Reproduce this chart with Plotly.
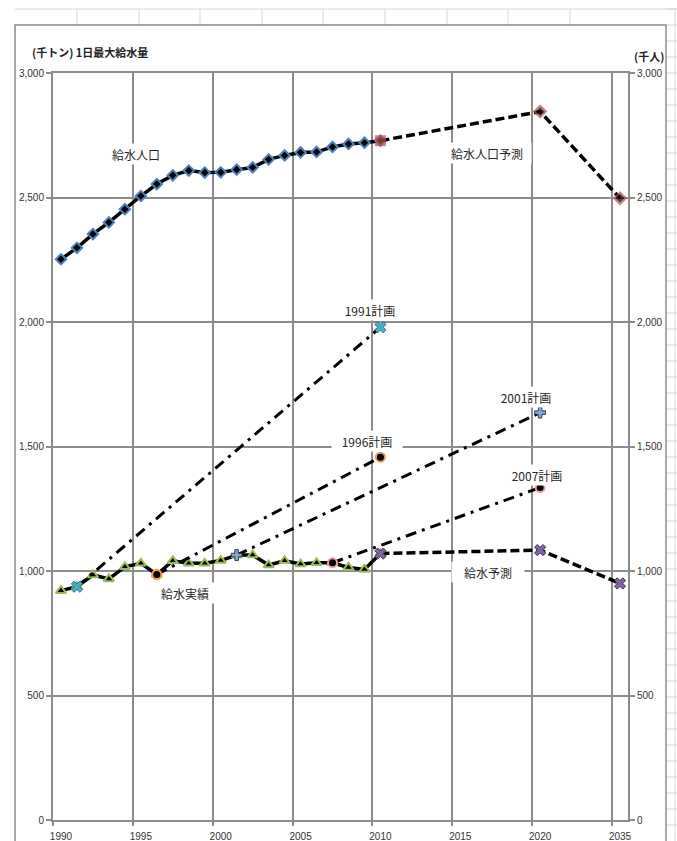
import plotly.graph_objects as go

# ---------------- data ----------------
# Excel-style category axis: yearly slots 1990-2024, the slot after 2024 holds 2035
axis_categories = [str(y) for y in range(1990, 2025)] + ["2035"]
tick_labels = ["1990", "1995", "2000", "2005", "2010", "2015", "2020", "2035"]

years_actual = [1990, 1991, 1992, 1993, 1994, 1995, 1996, 1997, 1998, 1999, 2000,
                2001, 2002, 2003, 2004, 2005, 2006, 2007, 2008, 2009, 2010]

# 給水人口 (千人, right axis)
population = [2252, 2298, 2353, 2400, 2453, 2506, 2554, 2589, 2608, 2600, 2601,
              2612, 2621, 2653, 2669, 2681, 2683, 2703, 2715, 2720, 2728]
pop_forecast_years = [2010, 2020, 2035]
pop_forecast = [2728, 2845, 2497]

# 1日最大給水量 (千トン, left axis)
supply_actual = [921, 937, 984, 968, 1017, 1031, 986, 1041, 1031, 1031, 1042,
                 1064, 1064, 1024, 1041, 1028, 1033, 1033, 1014, 1006, 1070]
supply_forecast_years = [2010, 2020, 2035]
supply_forecast = [1070, 1084, 950]

plan1991_years, plan1991 = [1991, 2010], [937, 1979]
plan1996_years, plan1996 = [1996, 2010], [986, 1457]
plan2001_years, plan2001 = [2001, 2020], [1064, 1636]
plan2007_years, plan2007 = [2007, 2020], [1033, 1335]

# ---------------- helpers ----------------
pos = {c: i for i, c in enumerate(axis_categories)}


def xs(years):
    return [pos[str(y)] for y in years]


W, H = 677, 841
ML, MR, MT, MB = 53, 49, 73, 21
PW, PH = W - ML - MR, H - MT - MB


def px_x(px):
    return (px - ML) / PW


def px_y(py):
    return (H - MB - py) / PH


GRID = "#8c8c8c"
CELL = "#d0d7e5"
DASHDOT = "11px,6px,3px,6px"
DASH = "9px,4px"

fig = go.Figure()

# plan lines (dash-dot)
plans = [
    (plan1991_years, plan1991, dict(symbol="x", size=10, color="#4bacc6", line=dict(color="#1f5f75", width=0.8))),
    (plan1996_years, plan1996, dict(symbol="circle", size=9, color="black", line=dict(color="#f79646", width=2))),
    (plan2001_years, plan2001, dict(symbol="cross", size=9, color="#7ea6e0", line=dict(color="#222", width=0.8))),
    (plan2007_years, plan2007, dict(symbol="circle", size=9, color="black", line=dict(color="#e6a5a3", width=2))),
]

# actual supply
fig.add_trace(go.Scatter(
    x=xs(years_actual), y=supply_actual, mode="lines+markers",
    line=dict(color="black", width=3.5),
    marker=dict(symbol="triangle-up", size=9, color="black", line=dict(color="#9bbb59", width=2)),
    yaxis="y", hoverinfo="skip"))

for yrs, vals, mk in plans:
    fig.add_trace(go.Scatter(
        x=xs(yrs), y=vals, mode="lines+markers",
        line=dict(color="black", width=3, dash=DASHDOT),
        marker=mk, yaxis="y", hoverinfo="skip"))

# supply forecast
fig.add_trace(go.Scatter(
    x=xs(supply_forecast_years), y=supply_forecast, mode="lines+markers",
    line=dict(color="black", width=3.5, dash=DASH),
    marker=dict(symbol="x", size=10, color="#8064a2", line=dict(color="#2a1f3a", width=0.8)),
    yaxis="y", hoverinfo="skip"))

# population
fig.add_trace(go.Scatter(
    x=xs(years_actual), y=population, mode="lines+markers",
    line=dict(color="black", width=3.5),
    marker=dict(symbol="diamond", size=8, color="black", line=dict(color="#4f81bd", width=2)),
    yaxis="y2", hoverinfo="skip"))

# population forecast
fig.add_trace(go.Scatter(
    x=xs(pop_forecast_years), y=pop_forecast, mode="lines+markers",
    line=dict(color="black", width=3.5, dash=DASH),
    marker=dict(symbol=["square", "diamond", "diamond"], size=[9, 9, 9],
                color=["#c0504d", "black", "black"], line=dict(color="#c0504d", width=2)),
    yaxis="y2", hoverinfo="skip"))

# ---------------- labels ----------------
lab_font = dict(family="Noto Sans CJK JP", size=12, color="#262626")
labels = [
    ("給水人口", 4.7, 2675, 64),
    ("給水人口予測", 26.67, 2679, 86),
    ("1991計画", 19.34, 2048, 68),
    ("1996計画", 19.15, 1522, 68),
    ("2001計画", 29.1, 1699, 66),
    ("2007計画", 29.79, 1386, 66),
    ("給水実績", 7.77, 912, 66),
    ("給水予測", 26.74, 996, 70),
]
annotations = []
for text, x, y, w in labels:
    annotations.append(dict(text=text, x=x, y=y, xref="x", yref="y", showarrow=False,
                            font=lab_font, bgcolor="white", width=w, height=18,
                            borderpad=1, xanchor="center", yanchor="middle"))

annotations.append(dict(text="<b>(千トン) 1日最大給水量</b>", x=px_x(30), y=px_y(52),
                        xref="paper", yref="paper", showarrow=False, xanchor="left", yanchor="middle",
                        font=dict(family="Noto Sans CJK JP", size=11, color="#222")))
annotations.append(dict(text="<b>(千人)</b>", x=px_x(666), y=px_y(56),
                        xref="paper", yref="paper", showarrow=False, xanchor="right", yanchor="middle",
                        font=dict(family="Noto Sans CJK JP", size=11, color="#222")))

# ---------------- spreadsheet / chart frame decoration ----------------
shapes = []
# top cell row line
shapes.append(dict(type="line", xref="paper", yref="paper", x0=px_x(15), x1=px_x(677),
                   y0=px_y(9), y1=px_y(9), line=dict(color=CELL, width=1)))
for cx in [77, 139, 200, 262, 323, 385, 447, 508, 570]:
    shapes.append(dict(type="line", xref="paper", yref="paper", x0=px_x(cx), x1=px_x(cx),
                       y0=px_y(9), y1=px_y(25), line=dict(color=CELL, width=1)))
# right column line and rows
shapes.append(dict(type="line", xref="paper", yref="paper", x0=px_x(675), x1=px_x(675),
                   y0=px_y(9), y1=px_y(841), line=dict(color=CELL, width=1)))
ry = 9
while ry < 841:
    shapes.append(dict(type="line", xref="paper", yref="paper", x0=px_x(666), x1=px_x(677),
                       y0=px_y(ry), y1=px_y(ry), line=dict(color=CELL, width=1)))
    ry += 16
# chart area border
shapes.append(dict(type="rect", xref="paper", yref="paper", x0=px_x(15), x1=px_x(666),
                   y0=px_y(860), y1=px_y(25), line=dict(color="#8a8a8a", width=1.5),
                   fillcolor="rgba(0,0,0,0)"))

# ---------------- layout ----------------
yaxis_common = dict(range=[0, 3000], dtick=500, tick0=0, tickformat=",",
                    ticks="outside", ticklen=5, tickwidth=2, tickcolor=GRID,
                    showline=True, linecolor=GRID, linewidth=2, zeroline=False,
                    tickfont=dict(family="Liberation Sans", size=10, color="#333"),
                    automargin=False, fixedrange=True)

fig.update_layout(
    width=W, height=H,
    margin=dict(l=ML, r=MR, t=MT, b=MB, autoexpand=False),
    paper_bgcolor="white", plot_bgcolor="white", showlegend=False,
    xaxis=dict(range=[-0.5, len(axis_categories) - 0.5], tickmode="array",
               tickvals=xs(tick_labels), ticktext=tick_labels,
               showgrid=False, ticks="outside", ticklen=6, tickcolor="rgba(0,0,0,0)",
               showline=True, mirror=True,
               linecolor=GRID, linewidth=2, zeroline=False,
               tickfont=dict(family="Liberation Sans", size=10, color="#333"),
               minor=dict(tickmode="array", tickvals=[v - 0.5 for v in xs(tick_labels)],
                          showgrid=True, gridcolor=GRID, gridwidth=2,
                          ticks="outside", ticklen=4, tickwidth=2, tickcolor=GRID),
               automargin=False, fixedrange=True),
    yaxis=dict(**yaxis_common, showgrid=True, gridcolor=GRID, gridwidth=2, side="left"),
    yaxis2=dict(**yaxis_common, showgrid=False, overlaying="y", side="right"),
    annotations=annotations,
    shapes=shapes,
)

fig.write_html("out.html", config={"displayModeBar": False},
               post_script="document.body.style.margin='0';document.body.style.overflow='hidden';")
